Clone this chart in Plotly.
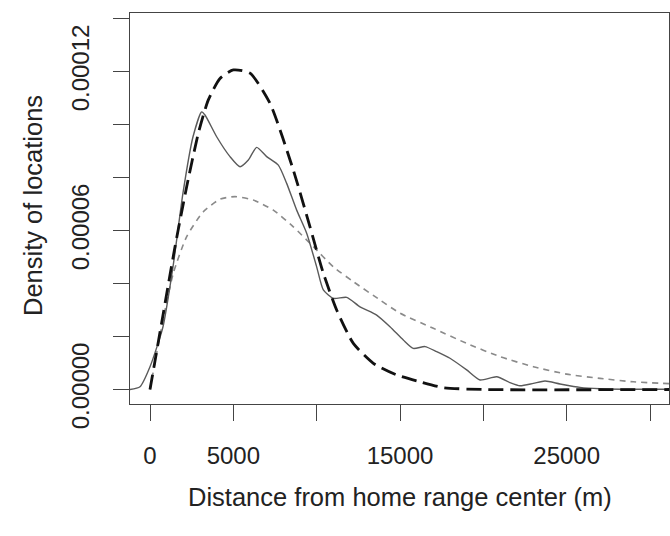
import plotly.graph_objects as go

# Empirical kernel density (solid grey line)
emp_x = [-1200, -600, 0, 780, 1380, 1980, 2580, 3100, 3300, 4000, 4800, 5400, 5900, 6400, 7000,
         7700, 8200, 8800, 9400, 10000, 10400, 11000, 11800, 12600, 13600, 14400, 15200, 15800,
         16500, 17200, 18000, 19000, 19800, 20800, 21600, 22200, 23000, 23700, 24600, 25800,
         27000, 29000, 31200]
emp_y = [0.0, 1.06e-6, 8.6e-6, 2.37e-5, 4.63e-5, 7.42e-5, 9.54e-5, 1.048e-4, 1.036e-4, 9.54e-5,
         8.79e-5, 8.41e-5, 8.66e-5, 9.14e-5, 8.79e-5, 8.47e-5, 7.78e-5, 6.77e-5, 5.9e-5, 4.63e-5,
         3.76e-5, 3.44e-5, 3.48e-5, 3.12e-5, 2.81e-5, 2.37e-5, 1.87e-5, 1.55e-5, 1.62e-5, 1.43e-5,
         1.18e-5, 7.4e-6, 3.6e-6, 4.8e-6, 2.6e-6, 1.4e-6, 2.3e-6, 3.2e-6, 2.1e-6, 8e-7, 3e-7,
         1e-7, 1e-7]

# Model 1 (thick long-dashed black line)
m1_x = [0, 800, 1500, 2200, 2900, 3500, 4200, 5000, 6000, 7200, 8600, 9600, 10400, 11200,
        12200, 13400, 14800, 16200, 17600, 20000, 31200]
m1_y = [0.0, 2.88e-5, 5.39e-5, 7.65e-5, 9.67e-5, 1.093e-4, 1.174e-4, 1.206e-4, 1.194e-4,
        1.08e-4, 8.28e-5, 6.14e-5, 4.39e-5, 3.0e-5, 1.74e-5, 9.9e-6, 5.5e-6, 2.9e-6, 7e-7,
        0.0, 0.0]

# Model 2 (thin short-dashed grey line)
m2_x = [0, 700, 1400, 2200, 3200, 4200, 5100, 6200, 7400, 8600, 9800, 11000, 12200, 13800,
        15000, 17000, 19000, 21000, 23000, 25000, 27000, 29000, 31200]
m2_y = [0.0, 2.37e-5, 4.39e-5, 5.77e-5, 6.71e-5, 7.18e-5, 7.28e-5, 7.15e-5, 6.77e-5, 6.14e-5,
        5.39e-5, 4.63e-5, 4.07e-5, 3.38e-5, 2.88e-5, 2.31e-5, 1.74e-5, 1.24e-5, 8.6e-6, 5.8e-6,
        4.2e-6, 2.9e-6, 2.2e-6]

x_ticks = [0, 5000, 10000, 15000, 20000, 25000, 30000]
x_labels = ["0", "5000", "", "15000", "", "25000", ""]
y_ticks = [0, 0.00002, 0.00004, 0.00006, 0.00008, 0.00010, 0.00012, 0.00014]
y_labels = ["0.00000", "", "", "0.00006", "", "", "0.00012", ""]

FONT = "Liberation Sans, Arial, Helvetica, sans-serif"

fig = go.Figure()
fig.add_trace(go.Scatter(x=m2_x, y=m2_y, mode="lines",
                         line=dict(color="#8a8a8a", width=1.6, dash="6px,5px", shape="spline", smoothing=0.6)))
fig.add_trace(go.Scatter(x=emp_x, y=emp_y, mode="lines",
                         line=dict(color="#5a5a5a", width=1.4, shape="spline", smoothing=0.6)))
fig.add_trace(go.Scatter(x=m1_x, y=m1_y, mode="lines",
                         line=dict(color="#111111", width=2.8, dash="15px,7px", shape="spline", smoothing=0.6)))

fig.update_layout(
    width=670, height=536,
    margin=dict(l=130, r=1, t=13, b=132),
    paper_bgcolor="white", plot_bgcolor="white",
    showlegend=False,
    font=dict(family=FONT, size=24, color="#222222"),
    xaxis=dict(range=[-1200, 31140], tickvals=x_ticks, ticktext=x_labels,
               showgrid=False, zeroline=False, showline=True, mirror=True,
               linecolor="#444444", linewidth=1.3, ticks="outside", ticklen=16,
               tickcolor="#444444", tickwidth=1.3, ticklabelstandoff=14,
               tickfont=dict(family=FONT, size=24, color="#222222")),
    yaxis=dict(range=[-5.47e-6, 1.421e-4], tickvals=y_ticks, ticktext=y_labels,
               showgrid=False, zeroline=False, showline=True, mirror=True,
               linecolor="#444444", linewidth=1.3, ticks="outside", ticklen=16,
               tickcolor="#444444", tickwidth=1.3, tickangle=-90, ticklabelstandoff=14,
               tickfont=dict(family=FONT, size=24, color="#222222")),
    annotations=[
        dict(text="Distance from home range center (m)", xref="paper", yref="paper",
             x=0.5, y=(404 - 497) / 391, xanchor="center", yanchor="middle",
             showarrow=False, font=dict(family=FONT, size=25.5, color="#222222")),
        dict(text="Density of locations", xref="paper", yref="paper",
             x=(33 - 130) / 539, y=(404 - 206) / 391, xanchor="center", yanchor="middle",
             textangle=-90, showarrow=False, font=dict(family=FONT, size=25.5, color="#222222")),
    ],
)

fig.write_html("out.html")
